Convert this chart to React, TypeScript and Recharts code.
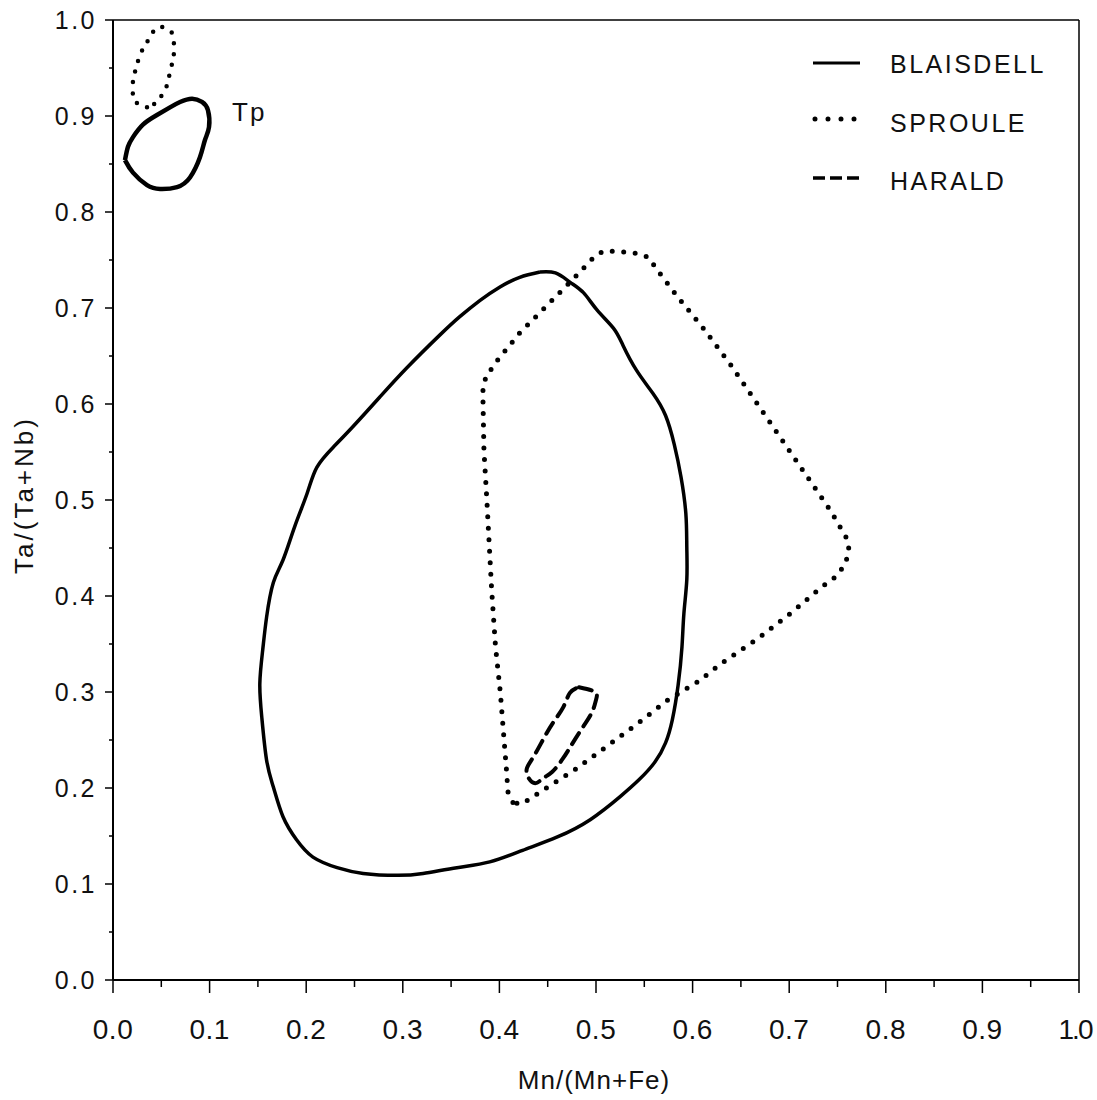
import React from "react";
import { LineChart, Line, XAxis, YAxis, ReferenceLine, ReferenceDot, Legend } from "recharts";

const FONT = "'Liberation Sans', Arial, Helvetica, sans-serif";

// Axis ticks: labelled every 0.1, short marks on the 0.05s
const AXIS_TICKS = [
  0, 0.05, 0.1, 0.15, 0.2, 0.25, 0.3, 0.35, 0.4, 0.45, 0.5,
  0.55, 0.6, 0.65, 0.7, 0.75, 0.8, 0.85, 0.9, 0.95, 1.0,
];

const SERIES_NAMES = ["BLAISDELL", "SPROULE", "HARALD"];

// Blaisdell, main field (closed outline)
const blaisdellMain = [
  { x: 0.442, y: 0.7375 }, { x: 0.458, y: 0.7365 }, { x: 0.473, y: 0.727 },
  { x: 0.487, y: 0.716 }, { x: 0.501, y: 0.698 }, { x: 0.518, y: 0.679 },
  { x: 0.528, y: 0.661 }, { x: 0.542, y: 0.635 }, { x: 0.559, y: 0.611 },
  { x: 0.572, y: 0.588 }, { x: 0.581, y: 0.558 }, { x: 0.588, y: 0.524 },
  { x: 0.593, y: 0.486 }, { x: 0.594, y: 0.451 }, { x: 0.594, y: 0.417 },
  { x: 0.591, y: 0.382 }, { x: 0.589, y: 0.347 }, { x: 0.585, y: 0.307 },
  { x: 0.579, y: 0.271 }, { x: 0.572, y: 0.247 }, { x: 0.561, y: 0.227 },
  { x: 0.545, y: 0.209 }, { x: 0.525, y: 0.191 }, { x: 0.494, y: 0.167 },
  { x: 0.46, y: 0.149 }, { x: 0.424, y: 0.135 }, { x: 0.39, y: 0.123 },
  { x: 0.356, y: 0.117 }, { x: 0.321, y: 0.111 }, { x: 0.294, y: 0.109 },
  { x: 0.259, y: 0.111 }, { x: 0.232, y: 0.117 }, { x: 0.207, y: 0.128 },
  { x: 0.19, y: 0.146 }, { x: 0.176, y: 0.17 }, { x: 0.166, y: 0.201 },
  { x: 0.159, y: 0.229 }, { x: 0.154, y: 0.274 }, { x: 0.152, y: 0.309 },
  { x: 0.155, y: 0.344 }, { x: 0.159, y: 0.378 }, { x: 0.166, y: 0.414 },
  { x: 0.176, y: 0.4375 }, { x: 0.188, y: 0.472 }, { x: 0.201, y: 0.507 },
  { x: 0.211, y: 0.534 }, { x: 0.228, y: 0.555 }, { x: 0.248, y: 0.576 },
  { x: 0.276, y: 0.607 }, { x: 0.304, y: 0.6375 }, { x: 0.3385, y: 0.672 },
  { x: 0.359, y: 0.691 }, { x: 0.38, y: 0.708 }, { x: 0.4006, y: 0.722 },
  { x: 0.421, y: 0.732 }, { x: 0.442, y: 0.7375 },
];

// Blaisdell, Tp field
const blaisdellTp = [
  { x: 0.0124, y: 0.854 }, { x: 0.0207, y: 0.841 }, { x: 0.0352, y: 0.828 },
  { x: 0.0487, y: 0.824 }, { x: 0.0663, y: 0.826 }, { x: 0.0797, y: 0.836 },
  { x: 0.09, y: 0.857 }, { x: 0.0952, y: 0.875 }, { x: 0.0994, y: 0.8885 },
  { x: 0.0983, y: 0.906 }, { x: 0.0921, y: 0.9146 }, { x: 0.0818, y: 0.918 },
  { x: 0.0694, y: 0.9146 }, { x: 0.059, y: 0.909 }, { x: 0.0455, y: 0.901 },
  { x: 0.031, y: 0.891 }, { x: 0.0207, y: 0.878 }, { x: 0.0155, y: 0.868 },
  { x: 0.0124, y: 0.854 },
];

// Sproule, main field
const sprouleMain = [
  { x: 0.414, y: 0.185 }, { x: 0.409, y: 0.195 }, { x: 0.407, y: 0.223 },
  { x: 0.405, y: 0.248 }, { x: 0.401, y: 0.299 }, { x: 0.396, y: 0.347 },
  { x: 0.392, y: 0.406 }, { x: 0.387, y: 0.5 }, { x: 0.384, y: 0.552 },
  { x: 0.383, y: 0.604 }, { x: 0.383, y: 0.617 }, { x: 0.386, y: 0.628 },
  { x: 0.396, y: 0.643 }, { x: 0.421, y: 0.674 }, { x: 0.4565, y: 0.71 },
  { x: 0.479, y: 0.733 }, { x: 0.497, y: 0.752 }, { x: 0.507, y: 0.759 },
  { x: 0.521, y: 0.759 }, { x: 0.541, y: 0.757 }, { x: 0.554, y: 0.753 },
  { x: 0.565, y: 0.7375 }, { x: 0.585, y: 0.711 }, { x: 0.611, y: 0.679 },
  { x: 0.64, y: 0.64 }, { x: 0.675, y: 0.5885 }, { x: 0.709, y: 0.5385 },
  { x: 0.743, y: 0.4885 }, { x: 0.759, y: 0.461 }, { x: 0.762, y: 0.448 },
  { x: 0.758, y: 0.433 }, { x: 0.748, y: 0.42 }, { x: 0.733, y: 0.409 },
  { x: 0.704, y: 0.384 }, { x: 0.668, y: 0.356 }, { x: 0.63, y: 0.33 },
  { x: 0.606, y: 0.311 }, { x: 0.5735, y: 0.291 }, { x: 0.5425, y: 0.2667 },
  { x: 0.512, y: 0.244 }, { x: 0.478, y: 0.219 }, { x: 0.447, y: 0.199 },
  { x: 0.423, y: 0.183 }, { x: 0.414, y: 0.185 },
];

// Sproule, Tp field
const sprouleTp = [
  { x: 0.0352, y: 0.909 }, { x: 0.0248, y: 0.9135 }, { x: 0.0207, y: 0.92 },
  { x: 0.0207, y: 0.929 }, { x: 0.0207, y: 0.9375 }, { x: 0.0228, y: 0.946 },
  { x: 0.028, y: 0.9635 }, { x: 0.0352, y: 0.977 }, { x: 0.0414, y: 0.9875 },
  { x: 0.0487, y: 0.993 }, { x: 0.0569, y: 0.99 }, { x: 0.0621, y: 0.984 },
  { x: 0.0631, y: 0.969 }, { x: 0.0621, y: 0.958 }, { x: 0.059, y: 0.946 },
  { x: 0.0559, y: 0.932 }, { x: 0.0507, y: 0.922 }, { x: 0.0455, y: 0.9146 },
  { x: 0.0352, y: 0.909 },
];

// Harald field
const harald = [
  { x: 0.4824, y: 0.305 }, { x: 0.499, y: 0.3 }, { x: 0.5, y: 0.2917 },
  { x: 0.4959, y: 0.279 }, { x: 0.4865, y: 0.2635 }, { x: 0.476, y: 0.247 },
  { x: 0.466, y: 0.231 }, { x: 0.4545, y: 0.2167 }, { x: 0.445, y: 0.21 },
  { x: 0.437, y: 0.205 }, { x: 0.4296, y: 0.2115 }, { x: 0.4286, y: 0.221 },
  { x: 0.435, y: 0.232 }, { x: 0.445, y: 0.25 }, { x: 0.4555, y: 0.268 },
  { x: 0.466, y: 0.284 }, { x: 0.473, y: 0.299 }, { x: 0.4824, y: 0.305 },
];

const TP_LABEL = { x: 0.141, y: 0.904, text: "Tp" };

const isMajor = (v: number) => Math.abs(v * 10 - Math.round(v * 10)) < 1e-6;

const XTick = ({ x, y, payload }: any) => {
  const major = isMajor(payload.value);
  const last = payload.value >= 1;
  return (
    <g>
      <line x1={x} x2={x} y1={y} y2={y + (major ? 13 : 7)} stroke="#000" strokeWidth={1.5} />
      {major && (
        <text
          x={last ? x - 4 : x}
          y={y + 59}
          textAnchor="middle"
          fontSize={28}
          letterSpacing={last ? -2 : 0.5}
          fontFamily={FONT}
          fill="#111"
        >
          {payload.value.toFixed(1)}
        </text>
      )}
    </g>
  );
};

const YTick = ({ x, y, payload }: any) => {
  const major = isMajor(payload.value);
  return (
    <g>
      <line x1={x} x2={x - (major ? 8 : 4)} y1={y} y2={y} stroke="#000" strokeWidth={1.5} />
      {major && (
        <text x={x - 16} y={y + 9} textAnchor="end" fontSize={25} letterSpacing={2.5} fontFamily={FONT} fill="#111">
          {payload.value.toFixed(1)}
        </text>
      )}
    </g>
  );
};

const LegendBox = () => (
  <svg width={280} height={170}>
    <line x1={13} x2={60} y1={23} y2={23} stroke="#000" strokeWidth={3} />
    <line x1={15} x2={60} y1={79} y2={79} stroke="#000" strokeWidth={5} strokeDasharray="0 13" strokeLinecap="round" />
    <line x1={13} x2={60} y1={138} y2={138} stroke="#000" strokeWidth={3.5} strokeDasharray="12 5" />
    {SERIES_NAMES.map((name, i) => (
      <text key={name} x={90} y={33 + [0, 59, 117][i]} fontSize={25} letterSpacing={2.5} fontFamily={FONT} fill="#111">
        {name}
      </text>
    ))}
  </svg>
);

export default function App() {
  return (
    <div style={{ position: "absolute", left: 0, top: 0, background: "#fff" }}>
      <LineChart width={1097} height={1100} margin={{ top: 20, right: 18, left: 0, bottom: 0 }}>
        <XAxis
          type="number"
          dataKey="x"
          domain={[0, 1]}
          ticks={AXIS_TICKS}
          interval={0}
          tick={<XTick />}
          tickLine={false}
          tickSize={0}
          tickMargin={0}
          height={120}
          axisLine={{ stroke: "#000", strokeWidth: 2 }}
          label={() => (
            <text x={594} y={1089} textAnchor="middle" fontSize={26} letterSpacing={1} fontFamily={FONT} fill="#111">
              Mn/(Mn+Fe)
            </text>
          )}
        />
        <YAxis
          type="number"
          dataKey="y"
          domain={[0, 1]}
          ticks={AXIS_TICKS}
          interval={0}
          tick={<YTick />}
          tickLine={false}
          tickSize={0}
          tickMargin={0}
          width={113}
          axisLine={{ stroke: "#000", strokeWidth: 2 }}
          label={() => (
            <text
              x={33}
              y={495}
              transform="rotate(-90 33 495)"
              textAnchor="middle"
              fontSize={26}
              letterSpacing={3}
              fontFamily={FONT}
              fill="#111"
            >
              Ta/(Ta+Nb)
            </text>
          )}
        />
        <ReferenceLine y={1} stroke="#000" strokeWidth={1.5} />
        <ReferenceLine x={1} stroke="#000" strokeWidth={1.5} />

        <Line data={blaisdellMain} dataKey="y" type="natural" stroke="#000" strokeWidth={3.5} dot={false} activeDot={false} isAnimationActive={false} />
        <Line data={blaisdellTp} dataKey="y" type="natural" stroke="#000" strokeWidth={4.5} dot={false} activeDot={false} isAnimationActive={false} />
        <Line data={sprouleMain} dataKey="y" type="linear" stroke="#000" strokeWidth={5} strokeDasharray="0 11.5" strokeLinecap="round" dot={false} activeDot={false} isAnimationActive={false} />
        <Line data={sprouleTp} dataKey="y" type="natural" stroke="#000" strokeWidth={4.5} strokeDasharray="0 11" strokeLinecap="round" dot={false} activeDot={false} isAnimationActive={false} />
        <Line data={harald} dataKey="y" type="natural" stroke="#000" strokeWidth={4} strokeDasharray="13 8" strokeLinecap="round" dot={false} activeDot={false} isAnimationActive={false} />

        <ReferenceDot
          x={TP_LABEL.x}
          y={TP_LABEL.y}
          r={0}
          fill="none"
          stroke="none"
          label={{ value: TP_LABEL.text, position: "center", fontSize: 26, fill: "#111", fontFamily: FONT, letterSpacing: 2 }}
        />

        <Legend
          layout="vertical"
          align="center"
          verticalAlign="middle"
          content={() => <LegendBox />}
          wrapperStyle={{ position: "absolute", left: 800, top: 40, width: 280, height: 170 }}
        />
      </LineChart>
    </div>
  );
}
